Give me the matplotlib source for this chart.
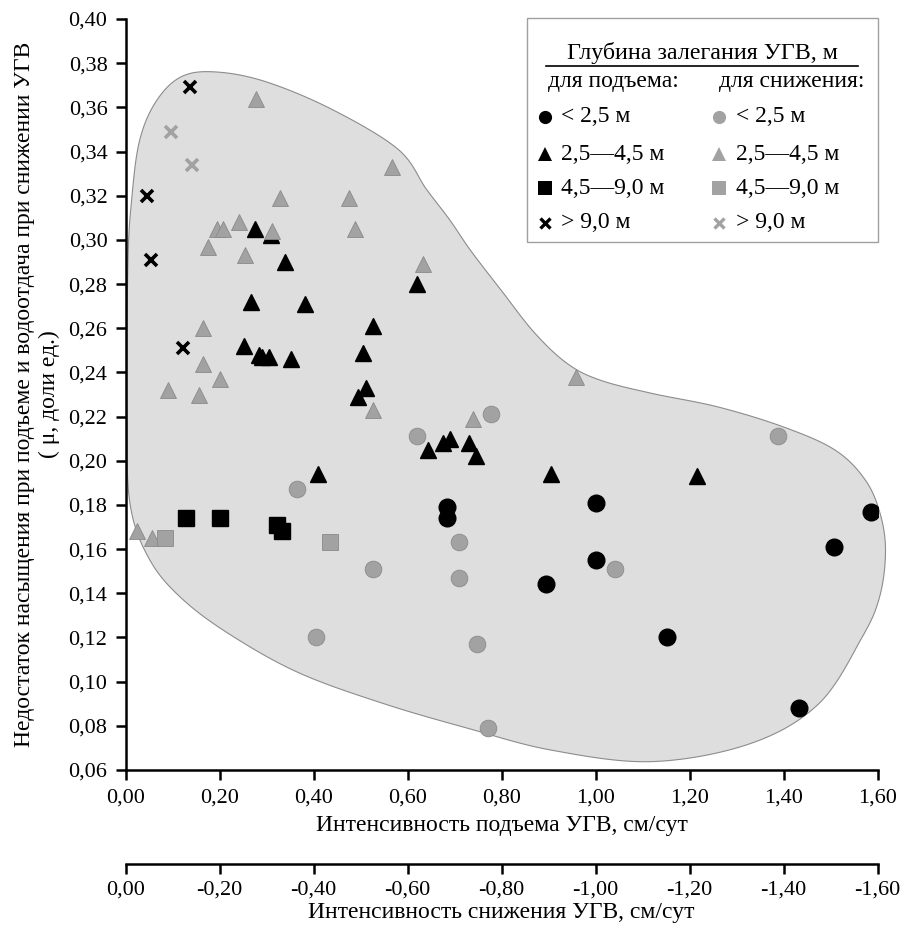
import matplotlib
matplotlib.use("Agg")
import matplotlib.pyplot as plt
from matplotlib.ticker import FuncFormatter, MultipleLocator
from matplotlib.patches import Polygon, Rectangle
from matplotlib.lines import Line2D
import numpy as np

plt.rcParams['font.family'] = ['Liberation Serif', 'DejaVu Serif']

# --- данные ---
# подъем УГВ (черные)
rise_lt25_x = [0.684, 0.684, 0.895, 1.000, 1.000, 1.153, 1.432, 1.508, 1.587]
rise_lt25_y = [0.179, 0.174, 0.144, 0.181, 0.155, 0.120, 0.088, 0.161, 0.177]

rise_25_45_x = [0.276, 0.340, 0.620, 0.267, 0.381, 0.310, 0.526, 0.253, 0.283, 0.290,
                0.306, 0.352, 0.506, 0.512, 0.495, 0.409, 0.644, 0.675, 0.691, 0.730,
                0.746, 0.905, 1.215]
rise_25_45_y = [0.305, 0.290, 0.280, 0.272, 0.271, 0.302, 0.261, 0.252, 0.248, 0.247,
                0.247, 0.246, 0.249, 0.233, 0.229, 0.194, 0.205, 0.208, 0.210, 0.208,
                0.202, 0.194, 0.193]

rise_45_90_x = [0.128, 0.201, 0.322, 0.334]
rise_45_90_y = [0.174, 0.174, 0.171, 0.168]

rise_gt9_x = [0.137, 0.045, 0.054, 0.123]
rise_gt9_y = [0.369, 0.320, 0.291, 0.251]

# снижение УГВ (серые), по модулю
fall_lt25_x = [0.620, 0.778, 0.365, 0.710, 0.527, 0.710, 0.406, 0.747, 0.771, 1.041, 1.388]
fall_lt25_y = [0.211, 0.221, 0.187, 0.163, 0.151, 0.147, 0.120, 0.117, 0.079, 0.151, 0.211]

fall_25_45_x = [0.278, 0.566, 0.328, 0.475, 0.488, 0.194, 0.207, 0.242, 0.312, 0.175,
                0.255, 0.632, 0.164, 0.164, 0.200, 0.091, 0.157, 0.527, 0.739, 0.024,
                0.056, 0.959]
fall_25_45_y = [0.364, 0.333, 0.319, 0.319, 0.305, 0.305, 0.305, 0.308, 0.304, 0.297,
                0.293, 0.289, 0.260, 0.244, 0.237, 0.232, 0.230, 0.223, 0.219, 0.168,
                0.165, 0.238]

fall_45_90_x = [0.085, 0.435]
fall_45_90_y = [0.165, 0.163]

fall_gt9_x = [0.096, 0.142]
fall_gt9_y = [0.349, 0.334]

# контур области
zone_x = [0.194, 0.30, 0.44, 0.58, 0.64, 0.69, 0.735, 0.80, 0.87, 0.94, 1.01, 1.12,
          1.26, 1.40, 1.51, 1.575, 1.607, 1.617, 1.604, 1.567, 1.475, 1.33, 1.12, 0.906,
          0.728, 0.55, 0.372, 0.23, 0.123, 0.052, 0.010, 0.003, 0.005, 0.013, 0.030,
          0.066, 0.12]
zone_y = [0.376, 0.3715, 0.359, 0.341, 0.323, 0.309, 0.295, 0.277, 0.258, 0.244, 0.2365,
          0.2305, 0.2244, 0.2153, 0.2048, 0.191, 0.175, 0.158, 0.138, 0.120, 0.090, 0.072,
          0.0638, 0.069, 0.0789, 0.090, 0.1037, 0.1203, 0.137, 0.155, 0.180, 0.220, 0.288,
          0.318, 0.345, 0.363, 0.374]

BLACK = "black"
GRAY = "#a2a2a2"
GRAY_EDGE = "#8a8a8a"


def closed_spline(xs, ys, n=30):
    # замкнутый сплайн Кэтмелла-Рома через точки контура
    P = np.column_stack([xs, ys])
    N = len(P)
    t = np.linspace(0, 1, n, endpoint=False)[:, None]
    out = []
    for i in range(N):
        p0, p1, p2, p3 = P[i - 1], P[i], P[(i + 1) % N], P[(i + 2) % N]
        seg = 0.5 * (2 * p1 + (-p0 + p2) * t + (2 * p0 - 5 * p1 + 4 * p2 - p3) * t ** 2
                     + (-p0 + 3 * p1 - 3 * p2 + p3) * t ** 3)
        out.append(seg)
    return np.vstack(out)


def comma(v, pos=None):
    return f"{round(v, 2) + 0.0:.2f}".replace(".", ",")


fig = plt.figure(figsize=(9.02, 9.31), dpi=100)
ax = fig.add_axes([125.5 / 902, 1 - 770 / 931, 752 / 902, 751 / 931])

ax.add_patch(Polygon(closed_spline(zone_x, zone_y), closed=True, facecolor="#dedede",
                     edgecolor="#8c8c8c", linewidth=0.8, zorder=1, clip_on=False))

ms = 11.5
ax.plot(rise_25_45_x, rise_25_45_y, "^", ms=ms, color=BLACK, ls="none", zorder=3)
ax.plot(fall_25_45_x, fall_25_45_y, "^", ms=ms, color=GRAY, mec=GRAY_EDGE, mew=0.6, ls="none", zorder=3)
ax.plot(fall_lt25_x, fall_lt25_y, "o", ms=12, color=GRAY, mec=GRAY_EDGE, mew=0.6, ls="none", zorder=3)
ax.plot(rise_lt25_x, rise_lt25_y, "o", ms=12, color=BLACK, ls="none", zorder=3)
ax.plot(fall_45_90_x, fall_45_90_y, "s", ms=11, color=GRAY, mec=GRAY_EDGE, mew=0.6, ls="none", zorder=3)
ax.plot(rise_45_90_x, rise_45_90_y, "s", ms=11, color=BLACK, ls="none", zorder=3)
ax.plot(fall_gt9_x, fall_gt9_y, "x", ms=9, mew=2.6, color=GRAY, ls="none", zorder=3)
ax.plot(rise_gt9_x, rise_gt9_y, "x", ms=9, mew=2.6, color=BLACK, ls="none", zorder=3)

ax.set_xlim(0, 1.6)
ax.set_ylim(0.06, 0.40)
ax.xaxis.set_major_locator(MultipleLocator(0.2))
ax.yaxis.set_major_locator(MultipleLocator(0.02))
ax.xaxis.set_major_formatter(FuncFormatter(comma))
ax.yaxis.set_major_formatter(FuncFormatter(comma))
for s in ["top", "right"]:
    ax.spines[s].set_visible(False)
for s in ["left", "bottom"]:
    ax.spines[s].set_linewidth(1.8)
ax.tick_params(direction="out", length=7, width=1.8, labelsize=16, pad=6)

ax.set_xlabel("Интенсивность подъема УГВ, см/сут", fontsize=17, labelpad=6)
ax.set_ylabel("Недостаток насыщения при подъеме и водоотдача при снижении УГВ\n( μ, доли ед.)",
              fontsize=17, labelpad=6, linespacing=1.25)

# вторая шкала — интенсивность снижения
sec = ax.secondary_xaxis(-0.125, functions=(lambda v: -v, lambda v: -v))
sec.set_xticks(np.arange(0, -1.61, -0.2))
sec.xaxis.set_major_formatter(FuncFormatter(comma))
sec.spines["bottom"].set_linewidth(1.8)
sec.tick_params(direction="out", length=7, width=1.8, labelsize=16, pad=5)
sec.set_xlabel("Интенсивность снижения УГВ, см/сут", fontsize=17, labelpad=2)


# легенда, собранная вручную
def fp(x, y):
    return (x / 902, 1 - y / 931)


fig.patches.append(Rectangle(fp(527.3, 241.7), 351 / 902, 223.4 / 931, transform=fig.transFigure,
                             facecolor="white", edgecolor="#a0a0a0", linewidth=1.0, zorder=5))
fig.text(*fp(702, 53), "Глубина залегания УГВ, м", ha="center", va="center", fontsize=17.3, zorder=6)
fig.lines.append(Line2D([546 / 902, 858 / 902], [1 - 66 / 931, 1 - 66 / 931], transform=fig.transFigure,
                        color="black", linewidth=1.2, zorder=6))
fig.text(*fp(548, 82), "для подъема:", ha="left", va="center", fontsize=17, zorder=6)
fig.text(*fp(719, 82), "для снижения:", ha="left", va="center", fontsize=17, zorder=6)

leg_labels = ["< 2,5 м", "2,5—4,5 м", "4,5—9,0 м", "> 9,0 м"]
leg_markers = ["o", "^", "s", "x"]
leg_rows = [117, 154, 188, 223]
for lab, mk, yy in zip(leg_labels, leg_markers, leg_rows):
    for xm, xt, col in [(545, 561, BLACK), (719, 736, GRAY)]:
        kw = dict(mew=2.4) if mk == "x" else dict(mew=0)
        fig.lines.append(Line2D([xm / 902], [1 - yy / 931], marker=mk, ms=9.5 if mk != "x" else 7.5,
                                color=col, ls="none", transform=fig.transFigure, zorder=6, **kw))
        fig.text(*fp(xt, yy), lab, ha="left", va="center", fontsize=17, zorder=6)

fig.savefig("out.png", dpi=100)
